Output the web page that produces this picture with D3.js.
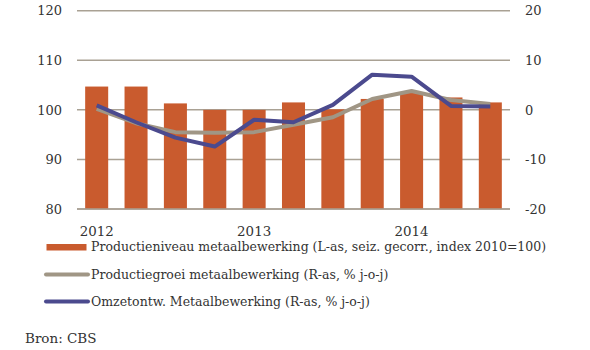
<!DOCTYPE html>
<html>
<head>
<meta charset="utf-8">
<script src="https://cdn.jsdelivr.net/npm/d3@7"></script>
<style>
  html, body { margin: 0; padding: 0; background: #ffffff; }
  svg { display: block; }
  text { font-family: "DejaVu Serif", "Liberation Serif", serif; fill: #333333; }
</style>
</head>
<body>
<svg id="chart" width="590" height="350"></svg>
<script>
const categories = ["2012K1","2012K2","2012K3","2012K4","2013K1","2013K2","2013K3","2013K4","2014K1","2014K2","2014K3"];
const productieniveau = [104.7, 104.7, 101.3, 100.0, 100.0, 101.5, 100.1, 102.2, 103.4, 102.5, 101.5];
const productiegroei  = [0.2, -2.7, -4.5, -4.6, -4.5, -3.0, -1.5, 2.2, 3.8, 2.0, 1.2];
const omzetontw       = [0.9, -2.5, -5.6, -7.4, -2.0, -2.5, 1.0, 7.1, 6.7, 0.8, 0.7];
const leftTicks  = [80, 90, 100, 110, 120];
const rightTicks = [-20, -10, 0, 10, 20];
const yearLabels = [{cat: "2012K1", label: "2012"}, {cat: "2013K1", label: "2013"}, {cat: "2014K1", label: "2014"}];
const legendLabels = [
  "Productieniveau metaalbewerking (L-as, seiz. gecorr., index 2010=100)",
  "Productiegroei metaalbewerking (R-as, % j-o-j)",
  "Omzetontw. Metaalbewerking (R-as, % j-o-j)"
];
const source = "Bron: CBS";

const colBar = "#c95b2e", colGrey = "#a09685", colBlue = "#4b4a8e", colGrid = "#a9a194";

const svg = d3.select("#chart");
const plot = {left: 77, right: 510, top: 10.7, bottom: 209};

const x = d3.scaleBand().domain(categories).range([plot.left, plot.right]).paddingInner(0.415).paddingOuter(0.2075);
const yL = d3.scaleLinear().domain([80, 120]).range([plot.bottom, plot.top]);
const yR = d3.scaleLinear().domain([-20, 20]).range([plot.bottom, plot.top]);

// gridlines
svg.append("g").selectAll("line").data(leftTicks).join("line")
  .attr("x1", plot.left).attr("x2", plot.right)
  .attr("y1", d => yL(d)).attr("y2", d => yL(d))
  .attr("stroke", colGrid).attr("stroke-width", 1.5);

// bars
svg.append("g").selectAll("rect").data(productieniveau).join("rect")
  .attr("x", (d, i) => x(categories[i]))
  .attr("width", x.bandwidth())
  .attr("y", d => yL(d))
  .attr("height", d => yL(80) - yL(d))
  .attr("fill", colBar);

// bottom baseline over bars
svg.append("line").attr("x1", plot.left).attr("x2", plot.right)
  .attr("y1", yL(80)).attr("y2", yL(80)).attr("stroke", colGrid).attr("stroke-width", 1.5);

const cx = (d, i) => x(categories[i]) + x.bandwidth() / 2;
const lineGen = d3.line().x(cx).y(d => yR(d));

svg.append("path").datum(productiegroei).attr("d", lineGen)
  .attr("fill", "none").attr("stroke", colGrey).attr("stroke-width", 4).attr("stroke-linejoin", "round");
svg.append("path").datum(omzetontw).attr("d", lineGen)
  .attr("fill", "none").attr("stroke", colBlue).attr("stroke-width", 4).attr("stroke-linejoin", "round");

// left axis labels
svg.append("g").selectAll("text").data(leftTicks).join("text")
  .attr("x", 62).attr("y", d => yL(d)).attr("dy", "0.36em")
  .attr("text-anchor", "end").attr("font-size", 13).text(d => d);

// right axis labels
svg.append("g").selectAll("text").data(rightTicks).join("text")
  .attr("x", 525).attr("y", d => yR(d)).attr("dy", "0.36em")
  .attr("text-anchor", "start").attr("font-size", 13).text(d => d);

// year labels
svg.append("g").selectAll("text").data(yearLabels).join("text")
  .attr("x", d => x(d.cat) + x.bandwidth() / 2).attr("y", 235.5)
  .attr("text-anchor", "middle").attr("font-size", 13.4).text(d => d.label);

// legend
const lg = svg.append("g");
const rows = [251, 279, 306];
lg.append("rect").attr("x", 46.5).attr("y", 244).attr("width", 40).attr("height", 6.5).attr("fill", colBar);
lg.append("line").attr("x1", 46).attr("x2", 88).attr("y1", 274.5).attr("y2", 274.5)
  .attr("stroke", colGrey).attr("stroke-width", 4).attr("stroke-linecap", "round");
lg.append("line").attr("x1", 46).attr("x2", 88).attr("y1", 301.5).attr("y2", 301.5)
  .attr("stroke", colBlue).attr("stroke-width", 4).attr("stroke-linecap", "round");
lg.selectAll("text").data(legendLabels).join("text")
  .attr("x", 91).attr("y", (d, i) => rows[i]).attr("font-size", 12.5).text(d => d);

svg.append("text").attr("x", 25).attr("y", 343).attr("font-size", 13.5).text(source);
</script>
</body>
</html>
